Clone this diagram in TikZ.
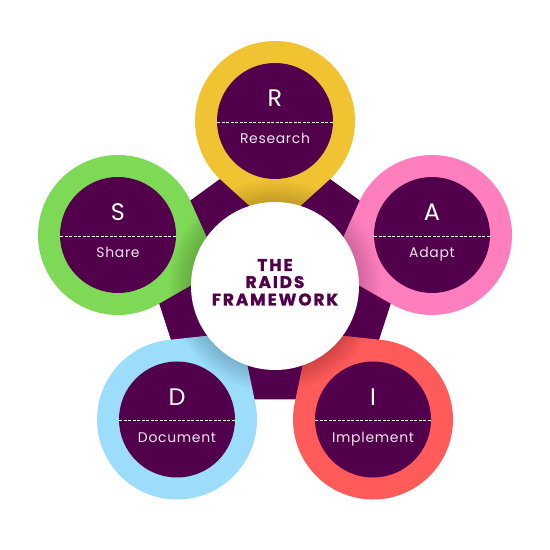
\documentclass[tikz,border=0pt]{standalone}
\usepackage{fontspec}
\setmainfont{Poppins}
\newfontfamily\wordfont[LetterSpace=5]{Poppins}
\newfontfamily\titlefont[LetterSpace=11, BoldFeatures={FakeBold=1.2}]{Poppins}
\usetikzlibrary{calc}
\definecolor{plum}{HTML}{52004C}
\definecolor{cyellow}{HTML}{F1C232}
\definecolor{cpink}{HTML}{FF7EBE}
\definecolor{cred}{HTML}{FF5B5B}
\definecolor{cblue}{HTML}{9BDDFB}
\definecolor{cgreen}{HTML}{7ED957}
\tikzset{
  letterlbl/.style={text=white, font=\fontsize{24}{24}\selectfont, anchor=base, inner sep=0pt},
  wordlbl/.style={text=white!90!plum, font=\wordfont\fontsize{14}{14}\selectfont, anchor=base, inner sep=0pt},
  titlelbl/.style={text=plum, font=\titlefont\bfseries\fontsize{17}{17}\selectfont, anchor=base, inner sep=0pt},
  dashline/.style={white, line width=0.8bp, dash pattern=on 3bp off 1.5bp}
}
\newcommand\tearpath[2]{(#1) ++(#2+42.2:80) arc[start angle=#2+42.2, end angle=#2+317.8, radius=80] -- ($(#1)+(#2:108)$) -- cycle}
\newcommand\petal[7]{%
  \fill[#3] \tearpath{#1}{#2};
  \begin{scope}
    \clip \tearpath{#1}{#2};
    \foreach \r in {86,88,...,106} \fill[black, opacity=0.014] (O) circle (\r);
  \end{scope}
  \fill[plum] (#1) circle (58);
  \coordinate (#4l) at ($(#1)+(-58,-1)$);
  \coordinate (#4r) at ($(#1)+(58,-1)$);
  \draw[dashline] (#4l) -- (#4r);
  \node[letterlbl] (#4t) at ($(#1)+(0,14)$) {#5};
  \node[wordlbl] (#4w) at ($(#1)+(0,-23)$) {#6};
}
\begin{document}
\begin{tikzpicture}[x=1bp,y=1bp]
\useasboundingbox (0,0) rectangle (550,550);
\coordinate (O) at (275,264);
\coordinate (P) at (275,267);
\coordinate (cR) at (275,429);
\coordinate (cA) at (432,315);
\coordinate (cI) at (373,130.5);
\coordinate (cD) at (177,130.5);
\coordinate (cS) at (118,315);
% pentagon
\fill[plum] ($(P)+(90:144)$) -- ($(P)+(18:144)$) -- ($(P)+(-54:144)$) -- ($(P)+(-126:144)$) -- ($(P)+(162:144)$) -- cycle;
% petals
\petal{cR}{-90}{cyellow}{r}{R}{Research}{}
\petal{cA}{198}{cpink}{a}{A}{Adapt}{}
\petal{cI}{126}{cred}{i}{I}{Implement}{}
\petal{cD}{54}{cblue}{d}{D}{Document}{}
\petal{cS}{-18}{cgreen}{s}{S}{Share}{}
% centre
\fill[white] (O) circle (84);
\node[titlelbl] (t1) at (275,279) {THE};
\node[titlelbl] (t2) at (275,262) {RAIDS};
\node[titlelbl] (t3) at (275,244.5) {FRAMEWORK};
\end{tikzpicture}
\end{document}
